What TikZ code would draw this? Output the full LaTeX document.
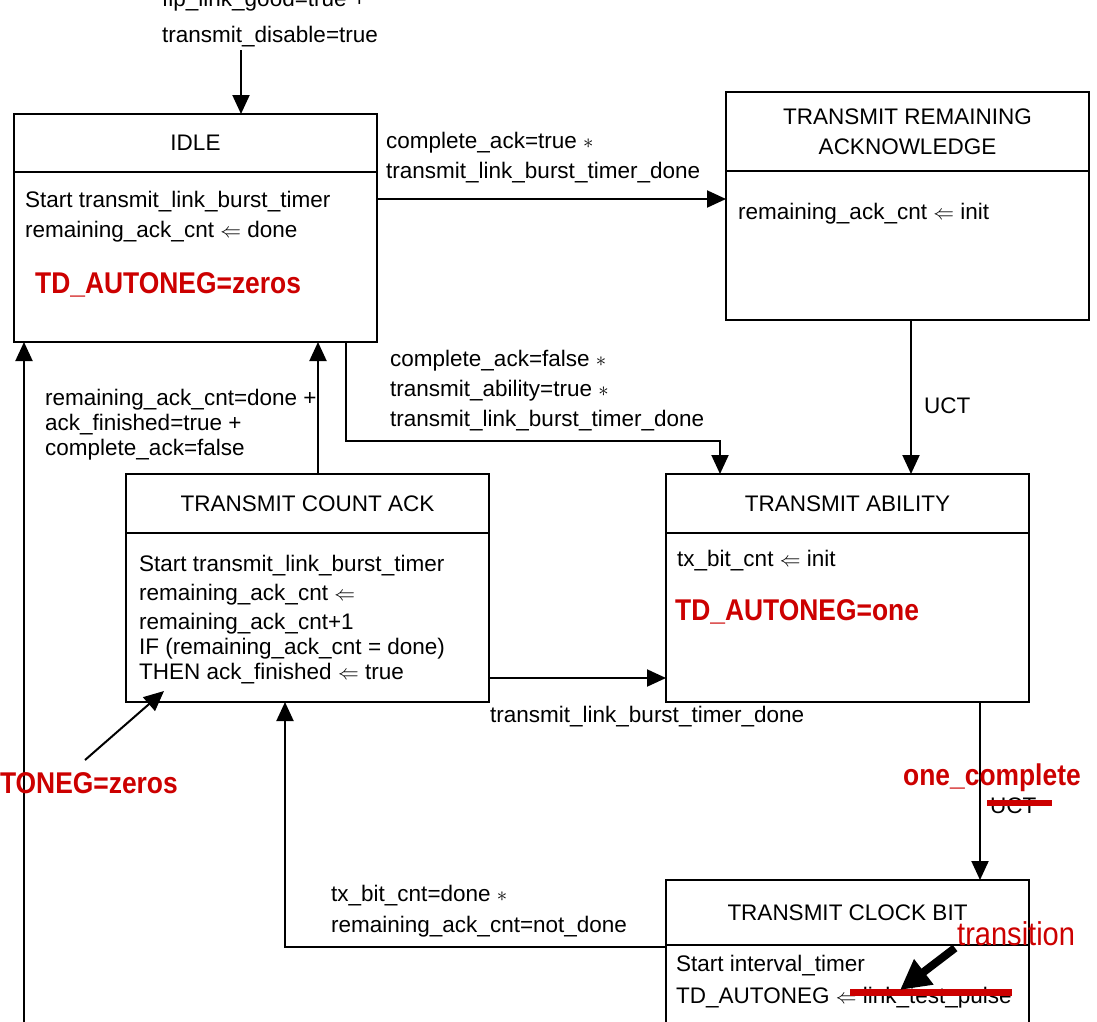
\documentclass[tikz,border=0pt]{standalone}
\usepackage{fontspec}
\setmainfont{Liberation Sans}
\newfontfamily\redfont[FakeStretch=0.88]{Liberation Sans}
\usetikzlibrary{arrows.meta, positioning}
\definecolor{annot}{RGB}{204,0,0}

\begin{document}
\begin{tikzpicture}[
  x=1pt, y=-1pt,
  font=\fontsize{22.5}{30}\selectfont,
  state/.style = {draw, line width=2pt, inner sep=0pt, outer sep=0pt, minimum width=363pt, align=center},
  act/.style = {draw, line width=2pt, inner sep=0pt, outer sep=0pt, minimum width=363pt},
  txt/.style = {inner sep=0pt, anchor=north west, align=left},
  hilite/.style = {text=annot, inner sep=0pt, anchor=base west, font=\redfont\bfseries\fontsize{30}{30}\selectfont},
  strike/.style = {annot, line width=7pt},
  arrow/.style = {line width=2pt, -{Triangle[length=19pt, width=17pt]}},
  pointer/.style = {line width=2pt, -{Triangle[length=20pt, width=18pt]}},
  bigpointer/.style = {line width=8pt, -{Triangle[length=30pt, width=30pt]}}
]
  \useasboundingbox (0,0) rectangle (1097,1021);
  \clip (0,0) rectangle (1097,1021);

  % states
  \node[state, minimum height=58pt, anchor=north west] (idle) at (14,114) {IDLE};
  \node[act, minimum height=170pt, below=0pt of idle] (idleact) {};

  \node[state, minimum height=79pt, anchor=north west] (tra) at (726,92) {TRANSMIT REMAINING\\ACKNOWLEDGE};
  \node[act, minimum height=149pt, below=0pt of tra] (traact) {};

  \node[state, minimum height=59pt, anchor=north west] (tca) at (126,474) {TRANSMIT COUNT ACK};
  \node[act, minimum height=169pt, below=0pt of tca] (tcaact) {};

  \node[state, minimum height=59pt, anchor=north west] (ta) at (666,474) {TRANSMIT ABILITY};
  \node[act, minimum height=169pt, below=0pt of ta] (taact) {};

  \node[state, minimum height=65pt, anchor=north west] (tcb) at (666,880) {TRANSMIT CLOCK BIT};
  \node[act, minimum height=205pt, below=0pt of tcb] (tcbact) {};

  % state actions
  \node[txt] (idletxt) at (25,191) {Start transmit\_link\_burst\_timer\\remaining\_ack\_cnt $\Leftarrow$ done};
  \node[hilite] (idlered) at (35,293) {TD\_AUTONEG=zeros};

  \node[txt] (tratxt) at (738,203) {remaining\_ack\_cnt $\Leftarrow$ init};

  \node[txt, font=\fontsize{22.5}{29}\selectfont] (tcatxt) at (139,555) {Start transmit\_link\_burst\_timer\\remaining\_ack\_cnt $\Leftarrow$\\remaining\_ack\_cnt+1\\[-4pt]IF (remaining\_ack\_cnt = done)\\[-4pt]THEN ack\_finished $\Leftarrow$ true};

  \node[txt] (tatxt) at (677,550) {tx\_bit\_cnt $\Leftarrow$ init};
  \node[hilite] (tared) at (675,620) {TD\_AUTONEG=one};

  \node[txt, font=\fontsize{22.5}{32}\selectfont] (tcbtxt) at (676,955) {Start interval\_timer\\TD\_AUTONEG $\Leftarrow$ link\_test\_pulse};
  \draw[strike] (850,992) -- (1012,992);

  % transitions
  \coordinate (entry) at (241,50);
  \draw[arrow] (entry) -- (entry |- idle.north);

  \coordinate (r1) at (0,199);
  \draw[arrow] (r1 -| idleact.east) -- (r1 -| traact.west);

  \coordinate (j1) at (346,441);
  \coordinate (j2) at (720,441);
  \draw[arrow] (j1 |- idleact.south) -- (j1) -- (j2) -- (j2 |- ta.north);

  \coordinate (uct) at (911,0);
  \draw[arrow] (uct |- traact.south) -- (uct |- ta.north);

  \coordinate (back) at (318,0);
  \draw[arrow] (back |- tca.north) -- (back |- idleact.south);

  \coordinate (reset) at (24,1040);
  \draw[arrow] (reset) -- (reset |- idleact.south);

  \coordinate (r2) at (0,678);
  \draw[arrow] (r2 -| tcaact.east) -- (r2 -| taact.west);

  \coordinate (done) at (980,0);
  \draw[arrow] (done |- taact.south) -- (done |- tcb.north);

  \coordinate (j3) at (285,947);
  \draw[arrow] (j3 -| tcbact.west) -- (j3) -- (j3 |- tcaact.south);

  % transition labels
  \node[txt] (entrylbl) at (162,-10) {flp\_link\_good=true +\\[6pt]transmit\_disable=true};
  \node[txt] (ackdone) at (386,132) {complete\_ack=true $\ast$\\transmit\_link\_burst\_timer\_done};
  \node[txt] (ability) at (390,350) {complete\_ack=false $\ast$\\transmit\_ability=true $\ast$\\transmit\_link\_burst\_timer\_done};
  \node[txt, anchor=west] (uctlbl) at (924,406) {UCT};
  \node[txt, font=\fontsize{22.5}{25}\selectfont] (ackcnt) at (45,389) {remaining\_ack\_cnt=done +\\ack\_finished=true +\\complete\_ack=false};
  \node[txt] (burst) at (490,706) {transmit\_link\_burst\_timer\_done};
  \node[txt, font=\fontsize{22.5}{31}\selectfont] (notdone) at (331,885) {tx\_bit\_cnt=done $\ast$\\remaining\_ack\_cnt=not\_done};

  % edits
  \node[hilite] (onecomplete) at (903,785) {one\_complete};
  \node[txt, anchor=west] (uctold) at (990,806) {UCT};
  \draw[strike, line width=6pt] (987,803) -- (1052,803);

  \node[hilite, anchor=base east] (zeroslbl) at (178,793) {TD\_AUTONEG=zeros};
  \coordinate (ztail) at (85,760);
  \coordinate (zhead) at (164,691);
  \draw[pointer] (ztail) -- (zhead);

  \node[hilite, font=\redfont\fontsize{33}{33}\selectfont] (translbl) at (957,945) {transition};
  \coordinate (ttail) at (955,948);
  \coordinate (thead) at (900,990);
  \draw[bigpointer] (ttail) -- (thead);
\end{tikzpicture}
\end{document}
